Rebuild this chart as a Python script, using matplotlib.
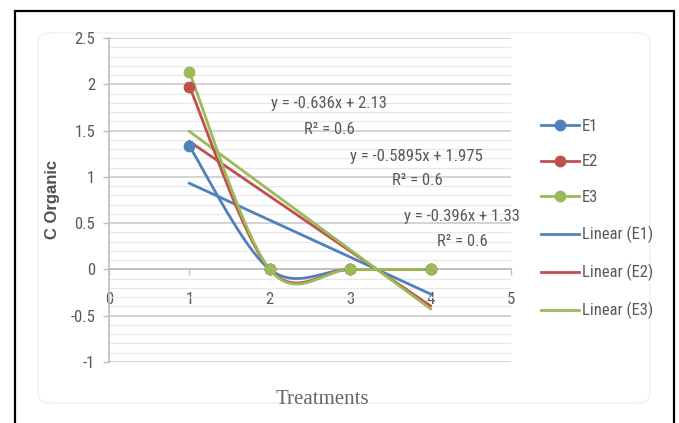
import numpy as np
import matplotlib
matplotlib.use("Agg")
import matplotlib.pyplot as plt
from matplotlib import font_manager
from matplotlib.ticker import MultipleLocator
from matplotlib.lines import Line2D
from matplotlib.patches import FancyBboxPatch

# ---------------- data ----------------
treatments = [1, 2, 3, 4]
series_names = ["E1", "E2", "E3"]
E1 = [1.33, 0, 0, 0]
E2 = [1.975, 0, 0, 0]
E3 = [2.13, 0, 0, 0]
trend_labels = ["Linear (E1)", "Linear (E2)", "Linear (E3)"]
equations = ["y = -0.396x + 1.33", "y = -0.5895x + 1.975", "y = -0.636x + 2.13"]
r2_labels = ["R² = 0.6", "R² = 0.6", "R² = 0.6"]
x_ticks = [0, 1, 2, 3, 4, 5]
y_ticks = [-1, -0.5, 0, 0.5, 1, 1.5, 2, 2.5]
x_label = "Treatments"
y_label = "C Organic"

# ---------------- fonts ----------------
avail = {f.name for f in font_manager.fontManager.ttflist}
def pick(cands):
    for c in cands:
        if c in avail:
            return c
    return "DejaVu Sans"
narrow = pick(["Liberation Sans Narrow", "Roboto Condensed", "Liberation Sans", "Open Sans"])
sans = pick(["Liberation Sans", "Open Sans", "DejaVu Sans"])
serif = pick(["Liberation Serif", "DejaVu Serif"])
plt.rcParams["font.family"] = [narrow, "DejaVu Sans"]

colors = ["#4F81BD", "#C0504D", "#9BBB59"]
gray_txt = "#595959"

def smooth(x, y, n=60):
    pts = np.column_stack([x, y]).astype(float)
    P = np.vstack([pts[0], pts, pts[-1]])
    out = []
    t = np.linspace(0, 1, n)[:, None]
    for i in range(1, len(P) - 2):
        p0, p1, p2, p3 = P[i - 1], P[i], P[i + 1], P[i + 2]
        c1 = p1 + (p2 - p0) / 6.0
        c2 = p2 - (p3 - p1) / 6.0
        seg = (1 - t) ** 3 * p1 + 3 * (1 - t) ** 2 * t * c1 + 3 * (1 - t) * t ** 2 * c2 + t ** 3 * p2
        out.append(seg if i == 1 else seg[1:])
    s = np.vstack(out)
    return s[:, 0], s[:, 1]

W, H = 679, 423
fig = plt.figure(figsize=(W / 100, H / 100), dpi=100)
fig.patch.set_facecolor("white")

# chart-area faint rounded border (drawn first, behind everything)
fig.patches.append(FancyBboxPatch((38 / W, 1 - 403 / H), (650 - 38) / W, (403 - 33) / H,
                                  boxstyle="round,pad=0,rounding_size=0.02",
                                  transform=fig.transFigure, facecolor="none",
                                  edgecolor="#f3f3f3", linewidth=1.2, zorder=-5))

# axes placement (pixels -> fractions)
ax_l, ax_r, ax_t, ax_b = 109, 511, 38, 362
ax = fig.add_axes([ax_l / W, 1 - ax_b / H, (ax_r - ax_l) / W, (ax_b - ax_t) / H])
ax.set_xlim(0, 5)
ax.set_ylim(-1, 2.5)
ax.patch.set_alpha(0)

# outer black frame (open at bottom)
fig.add_artist(Line2D([15 / W, 15 / W, 674 / W, 674 / W], [-0.02, 1 - 11 / H, 1 - 11 / H, -0.02],
                      transform=fig.transFigure, color="black", linewidth=1.6, solid_joinstyle="miter"))

# grid
ax.yaxis.set_major_locator(plt.FixedLocator(y_ticks))
ax.yaxis.set_minor_locator(MultipleLocator(0.1))
ax.grid(axis="y", which="major", color="#d0d0d0", linewidth=1.3, zorder=0)
ax.grid(axis="y", which="minor", color="#e8e8e8", linewidth=0.9, zorder=0)
ax.set_axisbelow(True)

# spines
for s in ["top", "right"]:
    ax.spines[s].set_visible(False)
ax.spines["left"].set_color("#bfbfbf")
ax.spines["left"].set_linewidth(1.2)
ax.spines["bottom"].set_position(("data", 0))
ax.spines["bottom"].set_color("#bfbfbf")
ax.spines["bottom"].set_linewidth(1.3)

ax.set_xticks(x_ticks)
ax.set_xticklabels([str(v) for v in x_ticks])
ax.set_yticklabels([("%g" % v) for v in y_ticks])
ax.tick_params(axis="x", which="major", direction="out", length=4, width=1, color="#bfbfbf",
               labelcolor=gray_txt, labelsize=12, pad=12)
ax.tick_params(axis="y", which="major", direction="out", length=4, width=1, color="#bfbfbf",
               labelcolor=gray_txt, labelsize=12, pad=6)
ax.tick_params(axis="y", which="minor", length=0)

# trendlines and series
data = [E1, E2, E3]
x = np.array(treatments, dtype=float)
handles_series, handles_trend = [], []
for vals, c, name, tl in zip(data, colors, series_names, trend_labels):
    m, b = np.polyfit(x, np.array(vals, dtype=float), 1)
    xx = np.array([x.min(), x.max()])
    h, = ax.plot(xx, m * xx + b, color=c, linewidth=2.0, zorder=3, label=tl)
    handles_trend.append(h)
for vals, c, name in zip(data, colors, series_names):
    sx, sy = smooth(treatments, vals)
    ax.plot(sx, sy, color=c, linewidth=2.0, zorder=4, solid_capstyle="round")
    ax.plot(treatments, vals, linestyle="none", marker="o", markersize=7.5, color=c, zorder=5)
    handles_series.append(Line2D([], [], color=c, linewidth=2.0, marker="o", markersize=7.5, label=name))

# equation annotations (E1, E2, E3 positions)
eq_pos = [(4.384, 0.577, 4.39, 0.297), (3.818, 1.225, 3.83, 0.965), (2.736, 1.797, 2.74, 1.51)]
for eq, r2, (ex, ey, rx, ry) in zip(equations, r2_labels, eq_pos):
    ax.text(ex, ey, eq, ha="center", va="center", fontsize=12, color=gray_txt, zorder=6)
    ax.text(rx, ry, r2, ha="center", va="center", fontsize=12, color=gray_txt, zorder=6)

# axis labels
ax.set_xlabel(x_label, family=[serif], fontsize=15, color="#666666")
ax.xaxis.set_label_coords((322 - ax_l) / (ax_r - ax_l), (ax_b - 399) / (ax_b - ax_t))
ax.xaxis.label.set_va("center")
ax.set_ylabel(y_label, family=[sans], fontsize=12, fontweight="bold", color="#505050")
ax.yaxis.set_label_coords((52 - ax_l) / (ax_r - ax_l), (ax_b - 199) / (ax_b - ax_t))
ax.yaxis.label.set_va("center")

# legend
leg = fig.legend(handles=handles_series + handles_trend,
                 loc="center left", bbox_to_anchor=(541 / W, 1 - 219 / H),
                 frameon=False, fontsize=12, handlelength=2.3, handletextpad=0.15,
                 labelspacing=1.25, borderpad=0, borderaxespad=0)
for t in leg.get_texts():
    t.set_color(gray_txt)

fig.savefig("out.png", dpi=100)
